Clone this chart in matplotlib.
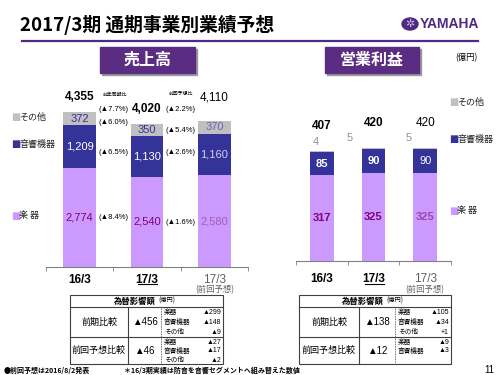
import matplotlib
matplotlib.use("Agg")
import matplotlib.pyplot as plt
from matplotlib.patches import Rectangle, Circle
from matplotlib.lines import Line2D

plt.rcParams['font.family'] = ['Liberation Sans', 'Noto Sans CJK JP', 'DejaVu Sans']

W, H = 500, 375

# ---- data ----
periods = ['16/3', '17/3', '17/3']
sales_instr = [2774, 2540, 2580]
sales_audio = [1209, 1130, 1160]
sales_other = [372, 350, 370]
sales_total = ['4,355', '4,020', '4,110']
sales_instr_lbl = ['2,774', '2,540', '2,580']
sales_audio_lbl = ['1,209', '1,130', '1,160']
sales_other_lbl = ['372', '350', '370']

yoy_lbl = ['(▲7.7%)', '(▲6.0%)', '(▲6.5%)', '(▲8.4%)']
vs_prev_lbl = ['(▲2.2%)', '(▲5.4%)', '(▲2.6%)', '(▲1.6%)']

op_instr = [317, 325, 325]
op_audio = [85, 90, 90]
op_other = [4, 5, 5]
op_total = ['407', '420', '420']

seg_names = ['その他', '音響機器', '楽 器']

fx_sales_rows = [['楽器', '▲299'], ['音響機器', '▲148'], ['その他', '▲9']]
fx_sales_prev = [['楽器', '▲27'], ['音響機器', '▲17'], ['その他', '▲2']]
fx_op_rows = [['楽器', '▲105'], ['音響機器', '▲34'], ['その他', '+1']]
fx_op_prev = [['楽器', '▲9'], ['音響機器', '▲3']]
fx_sales_total = ['▲456', '▲46']
fx_op_total = ['▲138', '▲12']

C_INSTR = '#CC99FF'
C_AUDIO = '#333399'
C_OTHER = '#C0C0C0'
PURPLE = '#4E2A84'
JP = ['Noto Sans CJK JP']

fig = plt.figure(figsize=(5, 3.75), dpi=100)


def ftext(x, y, s, **kw):
    kw.setdefault('ha', 'center')
    kw.setdefault('va', 'center')
    return fig.text(x / W, 1 - y / H, s, **kw)


def fline(x0, y0, x1, y1, **kw):
    fig.add_artist(Line2D([x0 / W, x1 / W], [1 - y0 / H, 1 - y1 / H], **kw))


def frect(x, y, w, h, **kw):
    fig.add_artist(Rectangle((x / W, 1 - (y + h) / H), w / W, h / H, **kw))


# ---- header ----
ftext(20, 25, '2017/3期 通期事業別業績予想', ha='left', fontsize=13.5,
      fontweight='bold', family=JP)
fline(22, 41, 478, 41, color=PURPLE, lw=1.6)
fig.add_artist(Circle((410 / W, 1 - 24 / H), 8 / W, color=PURPLE,
                      transform=fig.transFigure))
ftext(410, 24, '✲', color='#C8B8E0', fontsize=8, family=['DejaVu Sans'])
ftext(420, 24, 'YAMAHA', ha='left', fontsize=10, fontweight='bold', color=PURPLE)

for x0, w0, title in [(100, 95, '売上高'), (325, 94, '営業利益')]:
    frect(x0 + 2, 49, w0, 26, color='#9A9A9A')
    frect(x0, 47, w0, 26, color='#5A2D82')
    ftext(x0 + w0 / 2, 60, title, color='white', fontsize=11.5,
          fontweight='bold', family=JP)
ftext(466, 58, '(億円)', fontsize=6, family=JP)


def style_axis(ax, n):
    for s in ['left', 'right', 'top']:
        ax.spines[s].set_visible(False)
    ax.spines['bottom'].set_color('#808080')
    ax.set_yticks([])
    ax.set_xlim(-0.5, n - 0.5)
    ax.set_xticks(range(n))
    ax.set_xticks([i - 0.5 for i in range(n + 1)], minor=True)
    ax.tick_params(axis='x', which='major', length=0, pad=5)
    ax.tick_params(axis='x', which='minor', length=3, color='#808080')
    ax.set_xticklabels(periods, fontsize=8.5)
    labs = ax.get_xticklabels()
    labs[0].set_fontweight('bold')
    labs[1].set_fontweight('bold')
    labs[2].set_color('#606060')
    ax.patch.set_alpha(0)


# ---- sales chart ----
ax1 = fig.add_axes([46 / W, (H - 267) / H, 202 / W, 178 / H])
x = list(range(3))
bw = 0.49
b_audio = sales_instr
b_other = [a + b for a, b in zip(sales_instr, sales_audio)]
ax1.bar(x, sales_instr, bw, color=C_INSTR)
ax1.bar(x, sales_audio, bw, bottom=b_audio, color=C_AUDIO)
ax1.bar(x, sales_other, bw, bottom=b_other, color=C_OTHER)
ax1.set_ylim(0, 5000)
style_axis(ax1, 3)

instr_c = ['#800080', '#800080', '#A060B8']
audio_c = ['white', 'white', '#D0D0EE']
other_c = ['#333399', '#333399', '#6868B0']
top_off = [11, 11, 17]
for i in range(3):
    ax1.text(i, sales_instr[i] / 2, sales_instr_lbl[i], ha='center', va='center',
             fontsize=8, color=instr_c[i])
    ax1.text(i, b_audio[i] + sales_audio[i] / 2, sales_audio_lbl[i], ha='center',
             va='center', fontsize=8, color=audio_c[i])
    ax1.text(i, b_other[i] + sales_other[i] / 2, sales_other_lbl[i], ha='center',
             va='center', fontsize=8, color=other_c[i])
    top = b_other[i] + sales_other[i]
    ax1.annotate(sales_total[i], (i, top), xytext=(0, top_off[i]),
                 textcoords='offset points', ha='center', va='center',
                 fontsize=8.5, fontweight='bold' if i < 2 else 'normal')

pct_y = [4438, 4073, 3230, 1404]
pct_y2 = [4438, 3848, 3230, 1236]
for lbl, yy in zip(yoy_lbl, pct_y):
    ax1.text(0.5, yy, lbl, ha='center', va='center', fontsize=5.5)
for lbl, yy in zip(vs_prev_lbl, pct_y2):
    ax1.text(1.5, yy, lbl, ha='center', va='center', fontsize=5.5)
ax1.text(0.52, 4860, '前年同期比', ha='center', va='center', fontsize=3.5, family=JP)
ax1.text(1.5, 4860, '前回予想比', ha='center', va='center', fontsize=3.5, family=JP)

# legend (left)
for yy, c, name in zip([117, 144, 216], [C_OTHER, C_AUDIO, C_INSTR], seg_names):
    ftext(11, yy, '■', color=c, fontsize=7, ha='left', family=['DejaVu Sans'])
    ftext(19, yy, name, color='#222222', fontsize=6.5, ha='left', family=JP)

ftext(215, 290, '(前回予想)', fontsize=6, color='#606060', family=JP)
fline(138, 284, 157, 284, color='black', lw=0.8)

# ---- operating income chart ----
ax2 = fig.add_axes([296 / W, (H - 261) / H, 155 / W, 135 / H])
bw2 = 0.46
ob_audio = op_instr
ob_other = [a + b for a, b in zip(op_instr, op_audio)]
ax2.bar(x, op_instr, bw2, color=C_INSTR)
ax2.bar(x, op_audio, bw2, bottom=ob_audio, color=C_AUDIO)
ax2.bar(x, op_other, bw2, bottom=ob_other, color=C_OTHER)
ax2.set_ylim(0, 500)
style_axis(ax2, 3)
ax2.tick_params(axis='x', which='major', pad=9)

other_dx = [-4, -17, -12]
for i in range(3):
    wt = 'bold' if i < 2 else 'normal'
    ax2.text(i, op_instr[i] / 2, str(op_instr[i]), ha='center', va='center',
             fontsize=8, color='#800080' if i < 2 else '#9848B0', fontweight='bold')
    ax2.text(i, ob_audio[i] + op_audio[i] / 2, str(op_audio[i]), ha='center',
             va='center', fontsize=8, color='white', fontweight=wt)
    top = ob_other[i] + op_other[i]
    ax2.annotate(str(op_other[i]), (i, top), xytext=(other_dx[i], 7),
                 textcoords='offset points', ha='center', va='center',
                 fontsize=8, color='#909090')
    ax2.annotate(op_total[i], (i, top), xytext=(0, 18),
                 textcoords='offset points', ha='center', va='center',
                 fontsize=8.5, fontweight=wt)

for yy, c, name in zip([102, 139, 211], [C_OTHER, C_AUDIO, C_INSTR], seg_names):
    ftext(449, yy, '■', color=c, fontsize=7, ha='left', family=['DejaVu Sans'])
    ftext(457, yy, name, color='#222222', fontsize=6.5, ha='left', family=JP)

ftext(425, 290, '(前回予想)', fontsize=6, color='#606060', family=JP)
fline(365, 284, 384, 284, color='black', lw=0.8)


# ---- FX tables ----
def fx_table(x0, x1, c1, c2, totals, rows1, rows2):
    top, hdr, mid, bot = 295, 307, 337, 364
    frect(x0, top, x1 - x0, bot - top, fill=False, ec='#404040', lw=0.8)
    fline(x0, hdr, x1, hdr, color='#404040', lw=0.8)
    fline(x0, mid, x1, mid, color='#404040', lw=0.8)
    fline(c1, hdr, c1, bot, color='#404040', lw=0.8)
    fline(c2, hdr, c2, bot, color='#404040', lw=0.6, ls=(0, (1, 1)))
    cx = (x0 + x1) / 2
    ftext(cx - 12, 301, '為替影響額', fontsize=6, fontweight='bold', family=JP)
    ftext(cx + 20, 301, '(億円)', fontsize=4.5, family=JP)
    ftext((x0 + c1) / 2, (hdr + mid) / 2, '前期比較', fontsize=6.5, family=JP)
    ftext((x0 + c1) / 2, (mid + bot) / 2, '前回予想比較', fontsize=6.5, family=JP)
    ftext((c1 + c2) / 2, (hdr + mid) / 2, totals[0], fontsize=7)
    ftext((c1 + c2) / 2, (mid + bot) / 2, totals[1], fontsize=7)
    for j, (nm, v) in enumerate(rows1):
        yy = hdr + 5 + j * 10
        ftext(c2 + 3, yy, nm, ha='left', fontsize=4.8, family=JP)
        ftext(x1 - 2, yy, v, ha='right', fontsize=5)
    for j, (nm, v) in enumerate(rows2):
        yy = mid + 5 + j * 9
        ftext(c2 + 3, yy, nm, ha='left', fontsize=4.8, family=JP)
        ftext(x1 - 2, yy, v, ha='right', fontsize=5)


fx_table(70, 223, 128, 161, fx_sales_total, fx_sales_rows, fx_sales_prev)
fx_table(299, 451, 359, 395, fx_op_total, fx_op_rows, fx_op_prev)

# ---- footer ----
ftext(4, 370, '●前回予想は2016/8/2発表', ha='left', fontsize=5, fontweight='bold',
      family=JP)
ftext(124, 370, '＊16/3期実績は防音を音響セグメントへ組み替えた数値', ha='left',
      fontsize=5, fontweight='bold', family=JP)
ftext(489, 370, '11', fontsize=7)

fig.savefig('out.png', dpi=100)
